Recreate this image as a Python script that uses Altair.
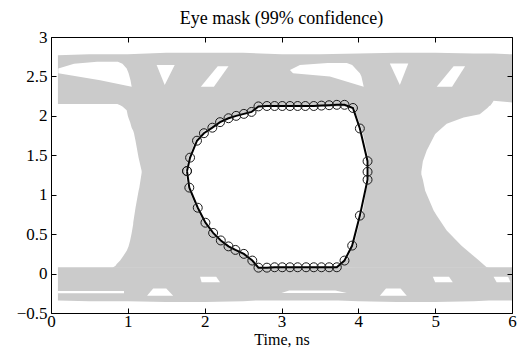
import altair as alt
import pandas as pd

FONT = "Liberation Serif"
GRAY = "#cbcbcb"

title_text = "Eye mask (99% confidence)"
x_title = "Time, ns"
x_ticks = [0, 1, 2, 3, 4, 5, 6]
y_ticks = [-0.5, 0, 0.5, 1, 1.5, 2, 2.5, 3]

# upper rail of the eye (gray band): x, lower edge, upper edge
top_x = [0.09, 0.5, 0.86, 1.0, 1.5, 2.0, 2.5, 3.0, 3.5, 4.0, 4.5, 5.0, 5.5, 5.72, 5.76, 6.0]
top_lo = [2.15, 2.15, 2.15, 2.12, 2.12, 2.12, 2.12, 2.12, 2.12, 2.12, 2.12, 2.12, 2.12, 2.13, 2.19, 2.17]
top_hi = [2.77, 2.78, 2.78, 2.78, 2.80, 2.80, 2.80, 2.78, 2.78, 2.79, 2.80, 2.80, 2.79, 2.79, 2.79, 2.78]

# lower rail of the eye
bot_x = [0.09, 0.5, 0.8, 1.0, 1.5, 2.0, 2.5, 2.7, 3.0, 3.5, 3.74, 4.0, 4.5, 5.0, 5.5, 5.7, 6.0]
bot_lo = [-0.34, -0.35, -0.35, -0.35, -0.36, -0.36, -0.35, -0.34, -0.34, -0.34, -0.34, -0.35, -0.36, -0.36, -0.35, -0.34, -0.34]
bot_hi = [0.08, 0.08, 0.08, 0.08, 0.08, 0.08, 0.08, 0.075, 0.075, 0.075, 0.075, 0.08, 0.08, 0.08, 0.08, 0.08, 0.08]

# left crossing: y, outer edge, eye edge
left_y = [0.075, 0.10, 0.12, 0.165, 0.25, 0.29, 0.30, 0.345, 0.42, 0.515, 0.63, 0.645, 0.835, 1.05,
          1.09, 1.28, 1.30, 1.47, 1.685, 1.78, 1.81, 1.85, 1.92, 1.97, 2.00, 2.025, 2.05, 2.07, 2.12, 2.16]
left_x1 = [0.80, 0.84, 0.855, 0.90, 0.96, 0.985, 0.99, 1.01, 1.03, 1.05, 1.07, 1.07, 1.10, 1.14,
           1.15, 1.18, 1.18, 1.14, 1.10, 1.08, 1.07, 1.05, 1.03, 1.01, 1.00, 0.995, 0.99, 0.985, 0.93, 0.855]
left_x2 = [2.70, 2.67, 2.65, 2.60, 2.49, 2.42, 2.38, 2.29, 2.19, 2.09, 2.00, 1.99, 1.89, 1.80,
           1.78, 1.75, 1.75, 1.79, 1.88, 1.97, 1.99, 2.08, 2.18, 2.29, 2.39, 2.49, 2.59, 2.65, 2.70, 2.70]

# right crossing: y, eye edge, outer edge
right_y = [0.075, 0.08, 0.165, 0.19, 0.33, 0.355, 0.545, 0.735, 0.80, 1.05, 1.19, 1.26, 1.29, 1.425,
           1.56, 1.77, 1.84, 1.90, 1.98, 2.02, 2.10, 2.13, 2.19]
right_x1 = [3.74, 3.74, 3.84, 3.86, 3.92, 3.94, 3.99, 4.04, 4.06, 4.10, 4.14, 4.14, 4.14, 4.14,
            4.11, 4.06, 4.04, 4.02, 3.99, 3.97, 3.95, 3.93, 3.90]
right_x2 = [5.70, 5.67, 5.57, 5.54, 5.37, 5.34, 5.15, 5.02, 4.98, 4.87, 4.84, 4.82, 4.82, 4.84,
            4.89, 5.00, 5.08, 5.15, 5.37, 5.58, 5.68, 5.71, 5.76]

# white gaps inside the traces: (y, x from, x to)
holes = {
    "lens_l": [(2.37, 1.05, 1.05), (2.45, 0.64, 1.035), (2.54, 0.095, 1.01), (2.60, 0.095, 0.985),
               (2.66, 0.30, 0.93), (2.685, 0.60, 0.87)],
    "lens_r": [(2.37, 4.07, 4.07), (2.50, 3.63, 4.04), (2.54, 3.15, 4.02), (2.58, 3.11, 3.98),
               (2.645, 3.24, 3.92), (2.67, 3.60, 3.85)],
    "tri_l": [(2.39, 1.48, 1.48), (2.645, 1.375, 1.61)],
    "tri_r": [(2.39, 4.54, 4.54), (2.665, 4.41, 4.65)],
    "par_l": [(2.37, 1.95, 2.12), (2.63, 2.17, 2.31)],
    "par_r": [(2.37, 5.02, 5.22), (2.63, 5.24, 5.39)],
    "line_l": [(-0.25, 0.09, 0.95), (-0.22, 0.09, 0.95)],
    "line_m": [(-0.245, 3.00, 3.85), (-0.215, 3.10, 3.70)],
    "trap_l": [(-0.28, 1.25, 1.59), (-0.19, 1.33, 1.50)],
    "trap_r": [(-0.28, 4.28, 4.63), (-0.19, 4.36, 4.55)],
    "slit_l": [(-0.11, 1.96, 2.20), (-0.04, 1.94, 2.15)],
    "slit_r": [(-0.11, 5.00, 5.23), (-0.04, 4.97, 5.18)],
    "slit_e": [(-0.11, 5.80, 5.98), (-0.04, 5.76, 5.95)],
}

# eye mask polygon
mask_x = [1.77, 1.81, 1.90, 1.99, 2.10, 2.20, 2.31, 2.41, 2.51, 2.61, 2.70,
          2.81, 2.91, 3.01, 3.11, 3.21, 3.31, 3.42, 3.52, 3.62, 3.72, 3.82, 3.93,
          4.02, 4.12, 4.12, 4.12, 4.02, 3.92, 3.82,
          3.72, 3.62, 3.52, 3.42, 3.32, 3.21, 3.11, 3.01, 2.91, 2.81, 2.70,
          2.62, 2.51, 2.40, 2.31, 2.21, 2.11, 2.01, 1.91, 1.80, 1.77]
mask_y = [1.30, 1.47, 1.685, 1.78, 1.85, 1.92, 1.97, 2.00, 2.025, 2.05, 2.12,
          2.125, 2.125, 2.125, 2.125, 2.125, 2.125, 2.125, 2.13, 2.135, 2.14, 2.14, 2.10,
          1.84, 1.425, 1.29, 1.19, 0.735, 0.355, 0.165,
          0.08, 0.08, 0.08, 0.08, 0.08, 0.08, 0.08, 0.08, 0.08, 0.075, 0.075,
          0.165, 0.25, 0.30, 0.345, 0.42, 0.515, 0.645, 0.835, 1.09, 1.30]

top_df = pd.DataFrame({"x": top_x, "lo": top_lo, "hi": top_hi})
bot_df = pd.DataFrame({"x": bot_x, "lo": bot_lo, "hi": bot_hi})
cross_df = pd.concat([
    pd.DataFrame({"side": "L", "y": left_y, "x1": left_x1, "x2": left_x2}),
    pd.DataFrame({"side": "R", "y": right_y, "x1": right_x1, "x2": right_x2}),
])
hole_df = pd.DataFrame([{"id": k, "y": y, "x1": a, "x2": b} for k, rows in holes.items() for (y, a, b) in rows])
mask_df = pd.DataFrame({"i": list(range(len(mask_x))), "x": mask_x, "y": mask_y})

xs = alt.Scale(domain=[0, 6], nice=False, zero=False)
ys = alt.Scale(domain=[-0.5, 3], nice=False, zero=False)

common = dict(labelFont=FONT, labelFontSize=17, labelColor="black", titleFont=FONT,
              titleFontSize=16, titleFontWeight="normal", titleColor="black",
              grid=False, domain=False, tickColor="black", tickWidth=1, tickSize=5,
              offset=-5, zindex=1)

ax_bottom = alt.Axis(orient="bottom", values=x_ticks, format="~g", labelPadding=0,
                     labelFlush=False, title=x_title, titleBaseline="alphabetic", titleY=36.5,
                     **common)
ax_left = alt.Axis(orient="left", values=y_ticks, format="~g", labelPadding=4,
                   labelFlush=False, title=None, **common)
ax_top = alt.Axis(orient="top", values=x_ticks, labels=False, title=None, **common)
ax_right = alt.Axis(orient="right", values=y_ticks, labels=False, title=None, **common)

top_band = alt.Chart(top_df).mark_area(color=GRAY).encode(
    x=alt.X("x:Q", scale=xs, axis=ax_bottom),
    y=alt.Y("lo:Q", scale=ys, axis=ax_left),
    y2="hi:Q",
)
bot_band = alt.Chart(bot_df).mark_area(color=GRAY).encode(
    x=alt.X("x:Q", scale=xs, axis=None),
    y=alt.Y("lo:Q", scale=ys, axis=None),
    y2="hi:Q",
)
cross = alt.Chart(cross_df).mark_area(color=GRAY, orient="horizontal").encode(
    y=alt.Y("y:Q", scale=ys, axis=None),
    x=alt.X("x1:Q", scale=xs, axis=None),
    x2="x2:Q",
    detail="side:N",
)
gaps = alt.Chart(hole_df).mark_area(color="white", orient="horizontal").encode(
    y=alt.Y("y:Q", scale=ys, axis=None),
    x=alt.X("x1:Q", scale=xs, axis=None),
    x2="x2:Q",
    detail="id:N",
)
mask_line = alt.Chart(mask_df).mark_line(color="black", strokeWidth=2).encode(
    x=alt.X("x:Q", scale=xs, axis=ax_top),
    y=alt.Y("y:Q", scale=ys, axis=ax_right),
    order="i:Q",
)
mask_pts = alt.Chart(mask_df).mark_point(shape="circle", filled=False, size=80,
                                         color="#1a1a1a", strokeWidth=1, opacity=1).encode(
    x=alt.X("x:Q", scale=xs, axis=None),
    y=alt.Y("y:Q", scale=ys, axis=None),
)

chart = alt.layer(top_band, bot_band, cross, gaps, mask_line, mask_pts).resolve_axis(
    x="independent", y="independent"
).properties(
    width=461, height=276,
    padding={"left": 43, "top": 29, "right": 10, "bottom": 35},
    autosize=alt.AutoSizeParams(type="none"),
    title=alt.TitleParams(text=title_text, font=FONT, fontSize=18, fontWeight="normal",
                          color="black", anchor="middle", frame="group", offset=0),
).configure_view(stroke="black", strokeWidth=1)

chart.save("out.html", embed_options={"renderer": "svg", "actions": False})
